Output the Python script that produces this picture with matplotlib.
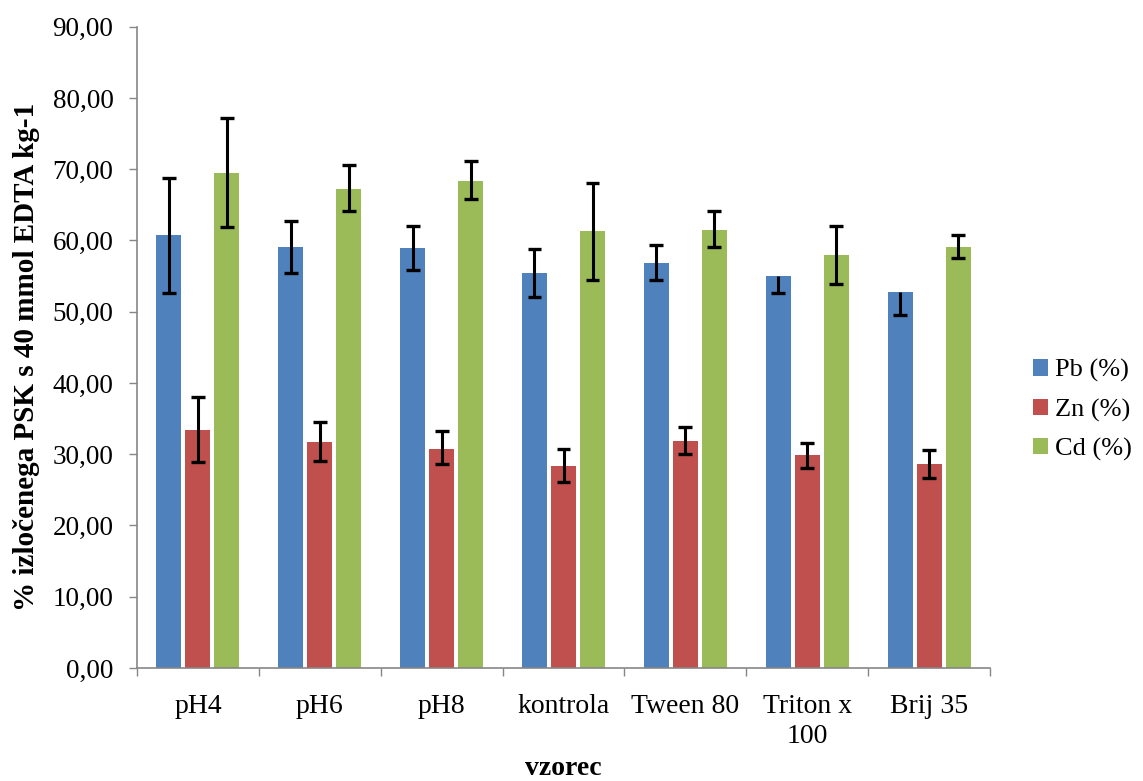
import matplotlib
matplotlib.use("Agg")
import matplotlib.pyplot as plt
import numpy as np
from matplotlib.ticker import FixedLocator, FuncFormatter

# Sample names and per-metal extraction percentages
samples = ["pH4", "pH6", "pH8", "kontrola", "Tween 80", "Triton x\n100", "Brij 35"]
series_names = ["Pb (%)", "Zn (%)", "Cd (%)"]

pb = [60.7, 59.1, 58.9, 55.4, 56.8, 55.0, 52.8]
zn = [33.4, 31.7, 30.8, 28.4, 31.9, 29.9, 28.6]
cd = [69.4, 67.2, 68.4, 61.3, 61.4, 58.0, 59.1]

# Error amounts (lower, upper)
pb_err_lo = [8.1, 3.7, 3.1, 3.3, 2.3, 2.4, 3.3]
pb_err_hi = [8.1, 3.7, 3.2, 3.4, 2.5, 0.0, 0.0]
zn_err_lo = [4.5, 2.7, 2.2, 2.3, 1.9, 1.8, 2.0]
zn_err_hi = [4.7, 2.8, 2.4, 2.4, 1.9, 1.7, 2.0]
cd_err_lo = [7.5, 3.1, 2.6, 6.8, 2.3, 4.1, 1.5]
cd_err_hi = [7.8, 3.4, 2.7, 6.7, 2.7, 4.1, 1.7]

colors = ["#4F81BD", "#C0504D", "#9BBB59"]
serif = ["Liberation Serif", "DejaVu Serif"]
axis_grey = "#868686"

W, H = 1143, 781
AX_L, AX_R, AX_B, AX_T = 137, 990, 668, 26.7
fig = plt.figure(figsize=(W / 100, H / 100), dpi=100)
ax = fig.add_axes([AX_L / W, (H - AX_B) / H, (AX_R - AX_L) / W, (AX_B - AX_T) / H])

x = np.arange(len(samples))
step = 0.238
width = 0.205
values = [pb, zn, cd]
lows = [pb_err_lo, zn_err_lo, cd_err_lo]
highs = [pb_err_hi, zn_err_hi, cd_err_hi]

handles = []
for i, (vals, lo, hi, c, name) in enumerate(zip(values, lows, highs, colors, series_names)):
    pos = x + (i - 1) * step
    h = ax.bar(pos, vals, width=width, color=c, edgecolor="none", label=name, zorder=2)
    handles.append(h)
    vals = np.asarray(vals)
    lo = np.asarray(lo)
    hi = np.asarray(hi)
    ax.vlines(pos, vals - lo, vals + hi, color="black", lw=2.2, zorder=3)
    cap = 0.057
    for p, v, l, u in zip(pos, vals, lo, hi):
        if l > 0:
            ax.hlines(v - l, p - cap, p + cap, color="black", lw=2.4, zorder=3)
        if u > 0:
            ax.hlines(v + u, p - cap, p + cap, color="black", lw=2.4, zorder=3)

ax.set_xlim(-0.5, len(samples) - 0.5)
ax.set_ylim(0, 90)
ax.yaxis.set_major_locator(FixedLocator(np.arange(0, 91, 10)))
ax.yaxis.set_major_formatter(FuncFormatter(lambda v, _: f"{v:.2f}".replace(".", ",")))

ax.set_xticks(x)
ax.set_xticklabels(samples, fontsize=20, family=serif, linespacing=1.25)
ax.set_xticks(np.arange(-0.5, len(samples), 1.0), minor=True)
ax.tick_params(axis="x", which="major", length=0, pad=19)
ax.tick_params(axis="x", which="minor", length=6, color=axis_grey, width=1)
ax.tick_params(axis="y", which="major", length=6, color=axis_grey, width=1,
               labelsize=19.5, pad=11)
for lab in ax.get_yticklabels():
    lab.set_family(serif)

for s in ["top", "right"]:
    ax.spines[s].set_visible(False)
for s in ["left", "bottom"]:
    ax.spines[s].set_color(axis_grey)
    ax.spines[s].set_linewidth(1.2)

ax.set_ylabel("% izločenega PSK s 40 mmol EDTA kg-1", fontsize=21,
              fontweight="bold", family=serif)
ax.yaxis.set_label_coords((40 - AX_L) / (AX_R - AX_L), (AX_B - 357) / (AX_B - AX_T))
ax.set_xlabel("vzorec", fontsize=20, fontweight="bold", family=serif)
ax.xaxis.set_label_coords(0.5, -(756 - AX_B) / (AX_B - AX_T))

leg = fig.legend(handles=handles, labels=series_names, loc="center left",
                 bbox_to_anchor=(1033 / W, 1 - 410 / H), frameon=False,
                 prop={"family": serif, "size": 19}, handlelength=0.58,
                 handleheight=0.58, handletextpad=0.25, labelspacing=0.62,
                 borderpad=0, borderaxespad=0)

fig.savefig("out.png", dpi=100, facecolor="white")
